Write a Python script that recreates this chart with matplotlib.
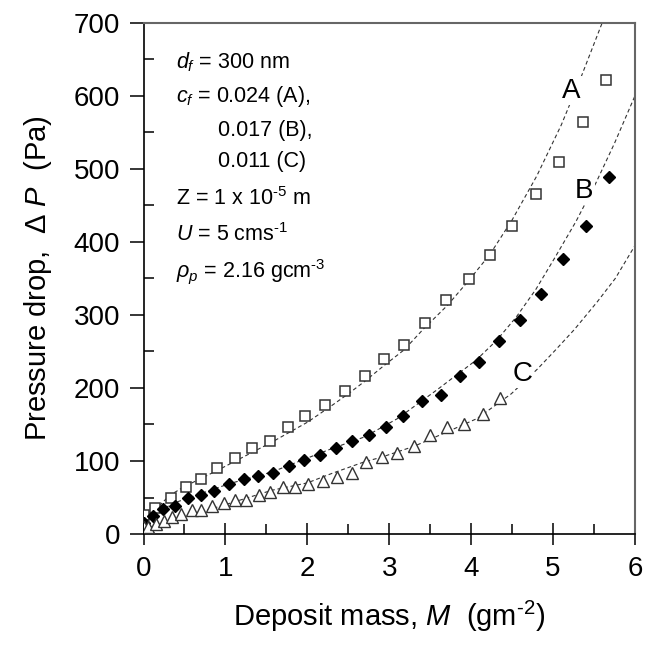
import matplotlib
matplotlib.use('Agg')
import matplotlib.pyplot as plt
import numpy as np

plt.rcParams['font.family'] = ['Liberation Sans', 'DejaVu Sans']
plt.rcParams['mathtext.fontset'] = 'custom'
plt.rcParams['mathtext.rm'] = 'Liberation Sans'
plt.rcParams['mathtext.it'] = 'Liberation Sans:italic'

# measured points
mA = [0, 0.14, 0.33, 0.52, 0.70, 0.90, 1.12, 1.33, 1.55, 1.76, 1.97, 2.21, 2.46,
      2.70, 2.94, 3.18, 3.44, 3.69, 3.97, 4.23, 4.50, 4.79, 5.07, 5.36, 5.64]
pA = [26, 35, 50, 65, 75, 90, 104, 118, 128, 147, 162, 176, 196,
      216, 240, 259, 289, 320, 349, 382, 422, 466, 509, 564, 622]

mB = [0, 0.11, 0.24, 0.39, 0.54, 0.70, 0.86, 1.04, 1.23, 1.40, 1.58, 1.77, 1.96, 2.15,
      2.35, 2.55, 2.75, 2.96, 3.17, 3.40, 3.63, 3.86, 4.10, 4.34, 4.60, 4.85, 5.12, 5.40, 5.68]
pB = [15, 25, 34, 39, 49, 53, 59, 69, 75, 79, 84, 93, 102, 108,
      118, 127, 136, 146, 161, 182, 191, 216, 235, 264, 293, 328, 376, 422, 489]

mC = [0, 0.06, 0.15, 0.25, 0.35, 0.46, 0.59, 0.70, 0.84, 0.98, 1.12, 1.25, 1.41, 1.55,
      1.70, 1.85, 2.01, 2.19, 2.36, 2.55, 2.72, 2.91, 3.09, 3.30, 3.50, 3.70, 3.91, 4.14, 4.35]
pC = [10, 10, 14, 18, 24, 28, 33, 33, 38, 43, 47, 47, 53, 57,
      64, 64, 68, 73, 78, 83, 98, 106, 111, 121, 136, 146, 151, 165, 186]

# model curves (dashed)
cA_m = [0, 0.14, 0.32, 0.5, 0.9, 1.33, 1.57, 2.0, 2.3, 2.5, 2.7, 2.94, 3.18, 3.42,
        3.71, 3.97, 4.23, 4.5, 4.8, 5.1, 5.35, 5.6, 5.66]
cA_p = [22, 33, 53, 65, 87, 112, 126, 153, 176, 192, 209, 231, 252, 281,
        313, 347, 383, 430, 490, 560, 628, 700, 716]

cB_m = [0, 0.12, 0.36, 0.64, 1.05, 1.57, 2.0, 2.3, 2.7, 3.1, 3.59, 4.06, 4.31, 4.55,
        4.79, 5.02, 5.28, 5.52, 5.75, 6.0]
cB_p = [15, 26, 42, 53, 69, 85, 104, 117, 133, 158, 198, 238, 265, 297,
        335, 378, 428, 480, 535, 600]

cC_m = [0, 0.24, 0.64, 1.05, 1.57, 2.0, 2.3, 2.7, 2.9, 3.3, 3.71, 4.07, 4.49, 4.81,
        5.03, 5.26, 5.54, 5.76, 6.0]
cC_p = [6, 15, 28, 42, 60, 70, 83, 99, 105, 120, 140, 158, 192, 226,
        252, 280, 318, 350, 395]

fig = plt.figure(figsize=(6.45, 6.58), dpi=100)
ax = fig.add_axes([0.2225, 0.1884, 0.762, 0.7771])

dash = dict(ls=(0, (3.5, 2.5)), lw=0.8, color='#333333', zorder=1)
ax.plot(cA_m, cA_p, **dash)
ax.plot(cB_m, cB_p, **dash)
ax.plot(cC_m, cC_p, **dash)

ax.plot(mA, pA, 's', ms=7, mfc='white', mec='#333333', mew=1.1, zorder=3)
ax.plot(mB, pB, 'D', ms=6, mfc='black', mec='black', zorder=3)
ax.plot(mC, pC, '^', ms=8, mfc='white', mec='#333333', mew=1.0, zorder=3)

lbl = dict(fontsize=20, ha='center', va='center', zorder=4,
           bbox=dict(fc='white', ec='none', pad=1))
ax.text(5.22, 607, 'A', **lbl)
ax.text(5.38, 470, 'B', **lbl)
ax.text(4.63, 219, 'C', **lbl)

hy = '\u2010'
notes = [(0.066, 0.923, r'$d_f$ = 300 nm'),
         (0.066, 0.855, r'$c_f$ = 0.024 (A),'),
         (0.152, 0.790, '0.017 (B),'),
         (0.152, 0.728, '0.011 (C)'),
         (0.066, 0.657, 'Z = 1 x 10$^{' + hy + '5}$ m'),
         (0.066, 0.585, '$U$ = 5 cms$^{' + hy + '1}$'),
         (0.066, 0.514, r'$\rho_p$ = 2.16 gcm$^{' + hy + '3}$')]
for x, y, s in notes:
    ax.text(x, y, s, transform=ax.transAxes, fontsize=15.5, va='center', ha='left')

ax.set_xlim(0, 6)
ax.set_ylim(0, 700)
ax.set_xticks(np.arange(0, 7, 1))
ax.set_yticks(np.arange(0, 800, 100))
ax.set_xticks(np.arange(0.5, 6, 1), minor=True)
ax.set_yticks(np.arange(50, 700, 100), minor=True)
ax.tick_params(axis='x', which='major', direction='inout', length=16, width=1.1,
               labelsize=20, pad=8)
ax.tick_params(axis='y', which='major', direction='out', length=10, width=1.1,
               labelsize=20, pad=7)
ax.tick_params(which='minor', direction='in', length=7, width=1.1)

for s in ['left', 'bottom']:
    ax.spines[s].set_color('black')
    ax.spines[s].set_linewidth(1.2)
for s in ['top', 'right']:
    ax.spines[s].set_color('#666666')
    ax.spines[s].set_linewidth(1.5)

ax.set_xlabel('Deposit mass, $M$  (gm$^{' + hy + '2}$)', fontsize=21, labelpad=12)
ax.set_ylabel(r'Pressure drop,  $\Delta\ P$  (Pa)', fontsize=21, labelpad=14)

fig.savefig('out.png', dpi=100)
